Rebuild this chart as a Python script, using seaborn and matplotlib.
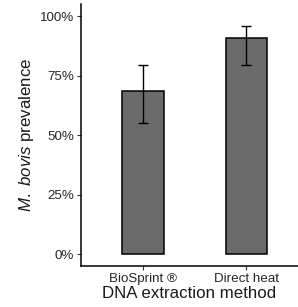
import pandas as pd
import numpy as np
import matplotlib
matplotlib.use("Agg")
import matplotlib.pyplot as plt
import seaborn as sns

# values
methods = ["BioSprint ®", "Direct heat"]
prevalence = [68.4, 90.6]
ci_low = [54.9, 79.5]
ci_high = [79.3, 95.8]
yticks = [0, 25, 50, 75, 100]

df = pd.DataFrame({"method": methods, "prevalence": prevalence})

sns.set_theme(style="white")
plt.rcParams["font.family"] = ["Liberation Sans", "DejaVu Sans"]
plt.rcParams["mathtext.fontset"] = "custom"
plt.rcParams["mathtext.it"] = "Liberation Sans:italic"
plt.rcParams["mathtext.rm"] = "Liberation Sans"

fig = plt.figure(figsize=(2.98, 3.07), dpi=100)
ax = fig.add_axes([0.272, 0.1336, 0.728, 0.853])

sns.barplot(data=df, x="method", y="prevalence", color="#6b6b6b",
            saturation=1, width=0.4, edgecolor="black", linewidth=1.1,
            errorbar=None, ax=ax)

pos = np.arange(len(methods))
lo = np.array(prevalence) - np.array(ci_low)
hi = np.array(ci_high) - np.array(prevalence)
ax.errorbar(pos, prevalence, yerr=[lo, hi], fmt="none", ecolor="black",
            elinewidth=1.0, capsize=3.6, capthick=1.0)

ax.set_ylim(-5, 105)
ax.set_xlim(-0.6, 1.5)
ax.set_yticks(yticks)
ax.set_yticklabels([f"{t}%" for t in yticks])
ax.set_xlabel("DNA extraction method", fontsize=12.2, color="#1a1a1a", labelpad=1)
ax.set_ylabel(r"$\it{M.\ bovis}$ prevalence", fontsize=12.2, color="#1a1a1a", labelpad=3)
ax.tick_params(axis="both", which="both", length=3, width=0.8, color="#333333",
               labelsize=9.6, labelcolor="#262626", pad=2, bottom=True, left=True)

for s in ["top", "right"]:
    ax.spines[s].set_visible(False)
for s in ["left", "bottom"]:
    ax.spines[s].set_color("black")
    ax.spines[s].set_linewidth(1.1)

fig.savefig("out.png", dpi=100)
